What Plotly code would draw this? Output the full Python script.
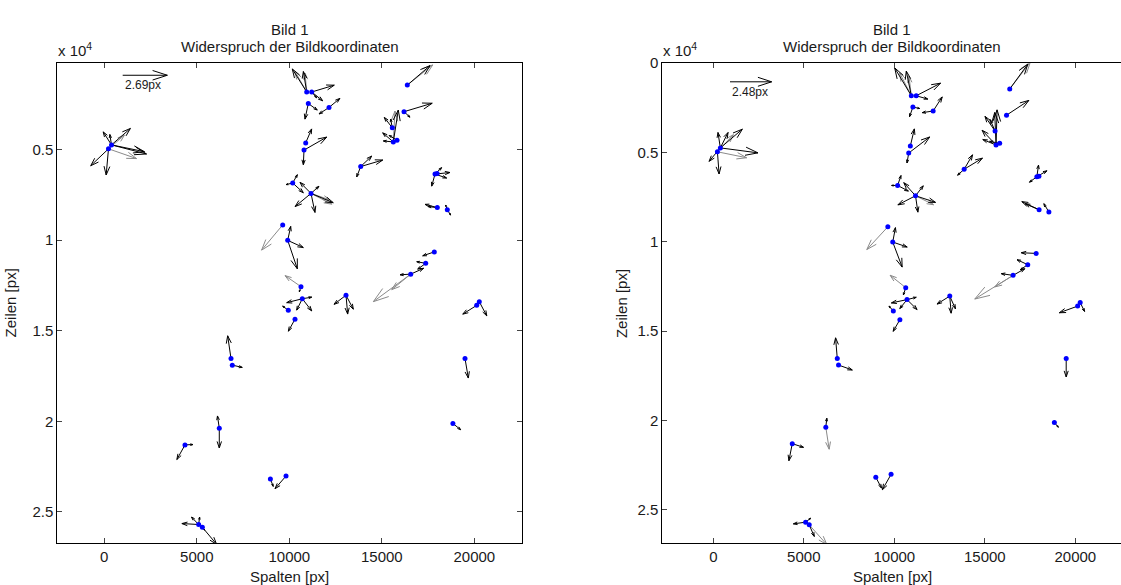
import plotly.graph_objects as go

# ---------------- data ----------------
# image coordinates of the observed points [px]
PT_X = [227, 389, 10941, 11211, 11027, 12146, 16378, 16200, 15568, 15622,
        15822, 10886, 10795, 13859, 17876, 10184, 11173, 18000, 18541, 9643,
        9914, 10632, 10703, 9946, 10308, 13065, 16562, 17373, 17838, 20130,
        20270, 19497, 6849, 6919, 6216, 4362, 8978, 9822, 18843, 5100,
        5300, 17990]
PT_Y = [4962, 4745, 1826, 1826, 2462, 2679, 1446, 2913, 3804, 4582,
        4489, 4636, 5033, 5940, 6359, 6848, 7424, 8207, 8332, 9163,
        10016, 12571, 13239, 13875, 14364, 13043, 11880, 11283, 10652, 13603,
        13402, 16538, 16538, 16902, 20380, 21304, 23185, 23022, 20125, 25700,
        25850, 6330]

# residuals (point index, dx [px], dy [px], grey flag) - left panel
LEFT_RES = [
    (1, -0.50, -0.80, 0), (1, -0.10, -0.64, 0), (1, 1.14, -1.01, 0), (0, 0.96, -0.84, 1),
    (1, 2.11, 0.56, 0), (0, 1.69, 0.60, 1), (1, 1.99, 0.42, 0), (0, -0.14, 1.61, 0),
    (0, -1.07, 1.04, 0),
    (2, -0.87, -1.42, 0), (2, -0.70, -1.26, 1), (2, -0.20, -1.26, 0), (2, -0.10, -1.16, 1),
    (3, 1.36, -0.42, 0), (3, 0.66, 0.54, 0), (3, 0.30, 0.36, 0),
    (4, -0.20, 0.96, 0), (4, 0.54, 0.40, 0),
    (5, 0.66, -0.56, 0), (5, -0.60, 0.40, 0),
    (6, 1.53, -1.24, 1), (6, 1.37, -1.20, 0),
    (7, 1.70, -0.52, 0), (7, 0.36, 0.34, 0),
    (8, -0.48, -0.64, 0), (8, -0.10, -0.54, 0),
    (9, 0.30, -1.96, 0), (9, 0.10, -1.90, 1), (9, -0.64, -0.56, 0), (9, -0.60, -0.06, 0),
    (10, -0.48, -0.30, 0),
    (11, 0.36, -0.86, 0),
    (12, 1.37, -0.80, 0), (12, -0.04, 0.90, 0),
    (13, 1.33, -0.40, 0), (13, 0.66, -0.64, 0), (13, -0.24, 0.64, 0),
    (14, 0.90, -0.10, 0), (14, 0.40, -0.40, 0), (14, -0.20, 0.74, 0), (14, 0.70, 0.24, 0),
    (15, -0.40, 0.10, 0), (15, 0.28, -0.51, 0), (15, 0.64, 0.60, 0),
    (16, 1.34, 0.57, 0), (16, 1.25, 0.66, 1), (16, 1.14, 0.40, 1), (16, -0.96, 0.81, 0),
    (16, 0.24, 1.17, 0), (16, -0.66, -0.68, 0), (16, 0.48, -0.44, 0),
    (17, -0.74, -0.20, 0), (17, -0.54, -0.06, 0),
    (18, -0.10, -0.30, 0), (18, 0.20, 0.32, 0),
    (19, -1.27, 1.55, 1),
    (20, 0.18, -0.86, 0), (20, 0.58, 1.75, 0), (20, 0.94, 0.44, 0),
    (21, -0.96, -0.68, 1), (21, -0.10, 0.32, 0),
    (22, 0.57, -0.10, 0), (22, 0.57, 0.75, 0), (22, -0.34, 0.70, 0), (22, -0.94, 0.24, 0),
    (23, -0.34, -0.26, 0),
    (24, -0.40, 0.74, 0),
    (25, -0.72, 0.56, 0), (25, 0.10, 1.16, 0), (25, 0.44, 0.86, 0),
    (26, -2.25, 1.69, 1), (26, -1.14, 0.95, 1), (26, -0.64, 0.04, 0), (26, 0.78, -0.36, 0),
    (27, -0.54, -0.10, 0), (27, -0.48, 0.36, 0),
    (28, -0.70, 0.24, 0),
    (29, -0.84, 0.54, 0),
    (30, 0.45, 0.87, 0),
    (31, 0.20, 1.20, 0),
    (32, -0.20, -1.40, 0),
    (33, 0.60, 0.14, 0),
    (34, -0.11, -0.75, 0), (34, 0.00, 1.22, 0),
    (35, -0.49, 0.90, 0), (35, 0.48, -0.02, 0),
    (36, 0.17, 0.46, 0),
    (37, -0.66, 0.78, 0),
    (38, 0.47, 0.38, 0),
    (39, -1.01, -0.06, 0), (39, -0.43, -0.46, 0), (39, 0.06, -0.46, 0),
    (40, 0.86, 1.05, 0), (40, 0.14, 0.18, 0),
]

# residuals - right panel
RIGHT_RES = [
    (1, -0.67, 0.81, 0), (1, -0.14, -0.93, 0), (1, 1.31, -1.13, 0), (0, 0.95, -1.03, 1),
    (1, 2.24, 0.30, 0), (0, 1.74, 0.36, 1), (0, 0.10, 1.34, 0), (1, 0.46, -0.93, 0),
    (2, -0.99, -1.68, 0), (2, -0.70, -1.39, 1), (2, -0.30, -1.49, 0), (2, -0.14, -1.19, 1),
    (3, 1.45, -0.76, 0), (3, 0.69, 0.20, 0),
    (4, -0.20, 0.58, 0), (4, 0.40, 0.08, 0),
    (5, 0.54, -0.85, 0), (5, -0.65, 0.10, 0),
    (6, 1.23, -1.62, 1), (6, 1.07, -1.49, 0),
    (7, 1.33, -0.89, 0),
    (8, -0.60, -0.89, 0), (8, -0.30, -0.70, 0),
    (9, 0.06, -2.12, 0), (9, -0.08, -1.96, 0), (9, -0.83, -0.89, 0), (9, -0.79, -0.33, 0),
    (10, -0.60, -0.12, 0),
    (11, 0.24, -1.03, 0),
    (12, 1.25, -0.97, 0), (12, -0.10, 0.60, 0),
    (13, 1.09, -0.67, 0), (13, 0.50, -0.87, 0), (13, -0.39, 0.36, 0),
    (14, 0.60, -0.36, 0), (14, 0.10, -0.70, 0), (14, -0.44, 0.33, 0),
    (15, 0.20, -0.60, 0), (15, -0.36, 0.00, 0), (15, 0.64, 0.34, 0),
    (16, 1.19, 0.40, 0), (16, 1.07, 0.54, 1), (16, -1.05, 0.55, 0), (16, 0.14, 0.99, 0),
    (16, -0.70, -0.79, 0), (16, 0.46, -0.60, 0),
    (17, -1.03, -0.49, 0), (17, -0.83, -0.36, 0),
    (18, -0.30, -0.50, 0),
    (19, -1.25, 1.37, 1),
    (20, 0.16, -0.87, 0), (20, 0.56, 1.51, 0), (20, 0.86, 0.30, 0),
    (21, -0.93, -0.75, 1), (21, -0.14, 0.44, 0),
    (22, 0.55, -0.14, 0), (22, 0.60, 0.60, 0), (22, -0.43, 0.54, 0), (22, -0.93, 0.20, 0),
    (23, -0.26, -0.30, 0),
    (24, -0.40, 0.70, 0),
    (25, -0.76, 0.48, 0), (25, 0.08, 1.03, 0), (25, 0.34, 0.77, 0),
    (26, -2.28, 1.43, 1), (26, -1.09, 0.70, 1), (26, -0.70, -0.10, 0), (26, 0.70, -0.40, 0),
    (27, -0.64, -0.30, 0), (27, -0.43, 0.30, 0),
    (28, -0.89, -0.04, 0),
    (29, -1.09, 0.40, 0),
    (30, 0.26, 0.54, 0),
    (31, 0.00, 1.11, 0),
    (32, -0.10, -1.25, 0),
    (33, 0.82, 0.30, 0),
    (34, 0.06, -0.54, 0), (34, 0.20, 1.33, 1),
    (35, -0.20, 1.03, 0), (35, 0.67, 0.22, 0),
    (36, 0.34, 0.65, 0),
    (37, -0.52, 0.93, 0),
    (38, 0.24, 0.28, 0),
    (39, -0.73, 0.10, 0), (39, 0.30, -0.24, 0),
    (40, 0.30, 0.70, 0), (40, 1.05, 1.19, 1),
]

PANEL_SCALE = [897, 928]          # quiver scaling (image units per px residual)
REF_LEN = [2.69, 2.48]            # reference arrow length [px]
REF_POS = [(995, 902), (923, 1044)]
X_TICKS = [0, 5000, 10000, 15000, 20000]
Y_TICKS_L = [5000, 10000, 15000, 20000, 25000]
Y_TEXT_L = ["0.5", "1", "1.5", "2", "2.5"]
Y_TICKS_R = [0, 5000, 10000, 15000, 20000, 25000]
Y_TEXT_R = ["0", "0.5", "1", "1.5", "2", "2.5"]

TITLE1 = "Bild 1"
TITLE2 = "Widerspruch der Bildkoordinaten"
XLABEL = "Spalten [px]"
YLABEL = "Zeilen [px]"

# ---------------- helpers ----------------
ALPHA, BETA = 0.33, 0.33


def quiver_xy(x0s, y0s, us, vs, scale):
    X, Y = [], []
    for x, y, u, v in zip(x0s, y0s, us, vs):
        U, V = u * scale, v * scale
        xe, ye = x + U, y + V
        X += [x, xe, None,
              xe - ALPHA * (U + BETA * V), xe, xe - ALPHA * (U - BETA * V), None]
        Y += [y, ye, None,
              ye - ALPHA * (V - BETA * U), ye, ye - ALPHA * (V + BETA * U), None]
    return X, Y


W, H = 1121, 585
FONT = "Liberation Sans, Arial, sans-serif"
TXT = "#1a1a1a"

fig = go.Figure()

panels = [
    dict(res=LEFT_RES, xa="x", ya="y", px0=57.3, px1=522.0),
    dict(res=RIGHT_RES, xa="x2", ya="y2", px0=662.3, px1=1122.4),
]

for i, p in enumerate(panels):
    sc = PANEL_SCALE[i]
    for grey, col in [(1, "#8a8a8a"), (0, "#000000")]:
        sel = [r for r in p["res"] if r[3] == grey]
        xs = [PT_X[r[0]] for r in sel]
        ys = [PT_Y[r[0]] for r in sel]
        X, Y = quiver_xy(xs, ys, [r[1] for r in sel], [r[2] for r in sel], sc)
        fig.add_trace(go.Scatter(x=X, y=Y, mode="lines", xaxis=p["xa"], yaxis=p["ya"],
                                 line=dict(color=col, width=1), hoverinfo="skip",
                                 showlegend=False))
    # reference arrow
    rx, ry = REF_POS[i]
    X, Y = quiver_xy([rx], [ry], [REF_LEN[i]], [0], sc)
    fig.add_trace(go.Scatter(x=X, y=Y, mode="lines", xaxis=p["xa"], yaxis=p["ya"],
                             line=dict(color="#000000", width=1), hoverinfo="skip",
                             showlegend=False))
    fig.add_annotation(x=rx, y=ry, xref=p["xa"], yref=p["ya"], text=f"{REF_LEN[i]:.2f}px",
                       showarrow=False, xanchor="left", yanchor="top", yshift=-1,
                       font=dict(family=FONT, size=12, color=TXT))
    # points
    fig.add_trace(go.Scatter(x=PT_X, y=PT_Y, mode="markers", xaxis=p["xa"], yaxis=p["ya"],
                             marker=dict(color="#0000ff", size=5, line=dict(width=0)),
                             hoverinfo="skip", showlegend=False))
    cx = (p["px0"] + p["px1"]) / 2 / W
    fig.add_annotation(x=cx, y=1 - 20.7 / H, xref="paper", yref="paper", text=TITLE1,
                       showarrow=False, xanchor="center", yanchor="middle",
                       font=dict(family=FONT, size=15, color=TXT))
    fig.add_annotation(x=cx, y=1 - 38.3 / H, xref="paper", yref="paper", text=TITLE2,
                       showarrow=False, xanchor="center", yanchor="middle",
                       font=dict(family=FONT, size=15, color=TXT))
    fig.add_annotation(x=cx, y=1 - 576 / H, xref="paper", yref="paper", text=XLABEL,
                       showarrow=False, xanchor="center", yanchor="middle",
                       font=dict(family=FONT, size=15, color=TXT))
    fig.add_annotation(x=(10 if i == 0 else 621.7) / W, y=1 - 299 / H, xref="paper",
                       yref="paper", text=YLABEL, textangle=-90,
                       showarrow=False, xanchor="center", yanchor="middle",
                       font=dict(family=FONT, size=15, color=TXT))
    fig.add_annotation(x=(p["px0"] - 1) / W, y=1 - 41 / H, xref="paper", yref="paper",
                       text="x 10<sup>4</sup>", showarrow=False, xanchor="left",
                       yanchor="middle", font=dict(family=FONT, size=15, color=TXT))

ydom = [(H - 542.7) / H, (H - 55) / H]
axis_common = dict(showgrid=False, zeroline=False, ticks="inside", ticklen=5,
                   tickcolor="#444", linecolor="#000", linewidth=1, showline=True,
                   tickfont=dict(family=FONT, size=15, color=TXT))

fig.update_layout(
    width=W, height=H, margin=dict(l=0, r=0, t=0, b=0),
    paper_bgcolor="white", plot_bgcolor="white", showlegend=False,
    xaxis=dict(domain=[57.3 / W, 522.0 / W], range=[-2540, 22578], anchor="y",
               tickvals=X_TICKS, ticktext=[str(v) for v in X_TICKS], mirror="ticks",
               **axis_common),
    yaxis=dict(domain=ydom, range=[26739, 234], anchor="x",
               tickvals=Y_TICKS_L, ticktext=Y_TEXT_L, mirror="ticks", **axis_common),
    xaxis2=dict(domain=[662.3 / W, 1.0], range=[-2818, 22525], anchor="y2",
                tickvals=X_TICKS, ticktext=[str(v) for v in X_TICKS], mirror="ticks",
                **axis_common),
    yaxis2=dict(domain=ydom, range=[26885, 0], anchor="x2",
                tickvals=Y_TICKS_R, ticktext=Y_TEXT_R, mirror=False, **axis_common),
)

fig.write_html(
    "out.html",
    config={"displayModeBar": False},
    post_script="document.body.style.margin='0px';document.body.style.overflow='hidden';",
)
